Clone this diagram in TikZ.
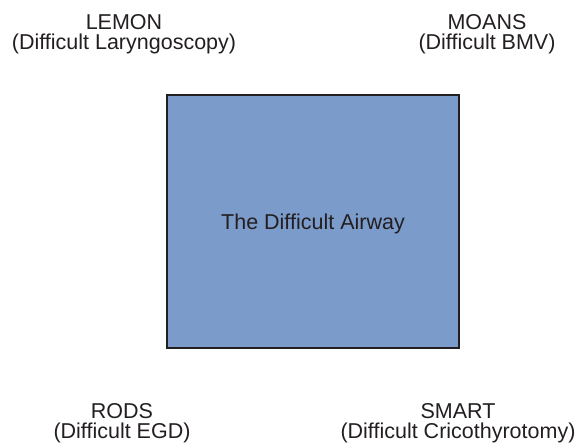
\documentclass[tikz,border=0pt]{standalone}
\usepackage{fontspec}
\setmainfont{Liberation Sans}
\definecolor{boxfill}{RGB}{123,155,203}
\definecolor{ink}{RGB}{35,31,32}
\begin{document}
\begin{tikzpicture}[x=1pt,y=-1pt,
  lbl/.style={text=ink,font=\fontsize{21.5}{22}\selectfont,inner sep=0pt,anchor=base},
  mainbox/.style={draw=ink,line width=1.4pt,fill=boxfill}]
\useasboundingbox (0,0) rectangle (582,447);
\draw[mainbox] (167,95) rectangle (459,348);
\node[lbl] (center) at (313,229) {The Difficult Airway};
\node[lbl] (lemon) at (124,29) {LEMON};
\node[lbl] (lemonb) at (124,49) {(Difficult Laryngoscopy)};
\node[lbl] (moans) at (487,29) {MOANS};
\node[lbl] (moansb) at (487,49) {(Difficult BMV)};
\node[lbl] (rods) at (122,418) {RODS};
\node[lbl] (rodsb) at (122,438) {(Difficult EGD)};
\node[lbl] (smart) at (458,418) {SMART};
\node[lbl] (smartb) at (458,438) {(Difficult Cricothyrotomy)};
\end{tikzpicture}
\end{document}
